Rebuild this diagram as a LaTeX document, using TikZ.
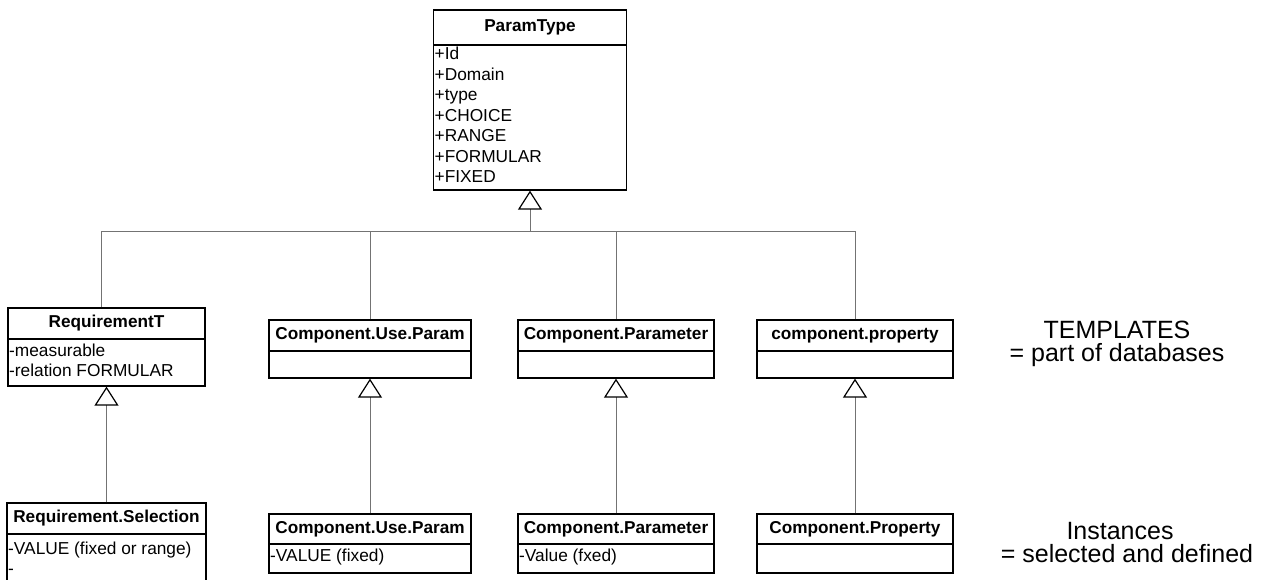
\documentclass[tikz,border=0pt]{standalone}
\usepackage{fontspec}
\setmainfont{Liberation Sans}
\usetikzlibrary{arrows.meta}

% UML class box: name, x1, y1, x2, y2, y of the compartment line, class name
\newcommand\umlclass[7]{%
  \node[classframe, minimum width={#4-#2}, minimum height={#5-#3}] (#1) at ({(#2+#4)/2},{(#3+#5)/2}) {};
  \draw[classline] (#2,#6) -- (#4,#6);
  \node[classtitle] (#1-title) at ({(#2+#4)/2},{(#3+#6)/2}) {#7};
}

\tikzset{
  classframe/.style={draw=black, line width=1.3pt, inner sep=0pt, fill=white},
  classline/.style={draw=black, line width=1.3pt},
  classtitle/.style={font=\bfseries\fontsize{17.2}{20}\selectfont, inner sep=0pt},
  attrs/.style={font=\fontsize{17.3}{20.5}\selectfont, align=left, inner sep=0pt, anchor=north west},
  conn/.style={draw=black!55, line width=1pt},
  gen/.style={conn, -{Triangle[open, length=19pt, width=24pt, line width=1.2pt, color=black]}},
  sidenote/.style={font=\fontsize{25}{25}\selectfont, inner sep=0pt, anchor=base},
}

\begin{document}
\begin{tikzpicture}[x=1pt, y=-1pt]
\useasboundingbox (0,0) rectangle (1261,579);
\path[clip] (0,0) rectangle (1261,579);

% base class
\umlclass{pt}{433.5}{10}{626.5}{190}{45}{ParamType}
\node[attrs] (pt-attrs) at (434.5,47) {+Id\\+Domain\\+type\\+CHOICE\\+RANGE\\+FORMULAR\\+FIXED};

% templates
\umlclass{req}{8}{308}{205}{386}{339}{RequirementT}
\node[attrs] (req-attrs) at (9,343.5) {-measurable\\-relation FORMULAR};

\umlclass{ucp}{269}{320}{471}{378}{351}{Component.Use.Param}
\umlclass{cpar}{518}{320}{714}{378}{351}{Component.Parameter}
\umlclass{cprop}{757}{320}{953}{378}{351}{component.property}

% instances
\umlclass{reqsel}{7}{503}{206}{600}{534}{Requirement.Selection}
\node[attrs] (reqsel-attrs) at (8,541.5) {-VALUE (fixed or range)\\-};

\umlclass{ucpi}{269}{514}{471}{573}{544}{Component.Use.Param}
\node[attrs] (ucpi-attrs) at (270,549) {-VALUE (fixed)};

\umlclass{cpari}{518}{514}{714}{573}{544}{Component.Parameter}
\node[attrs] (cpari-attrs) at (519,549) {-Value (fxed)};

\umlclass{cpropi}{757}{514}{953}{573}{544}{Component.Property}

% generalisation tree towards ParamType
\coordinate (bus) at (530,231);
\draw[conn] ([xshift=-5.5pt]req.north) |- (bus);
\draw[conn] (ucp.north) |- (bus);
\draw[conn] (cpar.north) |- (bus);
\draw[conn] (cprop.north) |- (bus);
\draw[gen] (bus) -- (pt.south);

% instance-to-template generalisations
\draw[gen] (reqsel.north) -- (req.south);
\draw[gen] (ucpi.north) -- (ucp.south);
\draw[gen] (cpari.north) -- (cpar.south);
\draw[gen] (cpropi.north) -- (cprop.south);

% side labels
\node[sidenote] (tpl) at (1117,338) {TEMPLATES};
\node[sidenote] (tpl-sub) at (1117,361) {= part of databases};
\node[sidenote] (inst) at (1120,539) {Instances};
\node[sidenote] (inst-sub) at (1127,562) {= selected and defined};
\end{tikzpicture}
\end{document}
